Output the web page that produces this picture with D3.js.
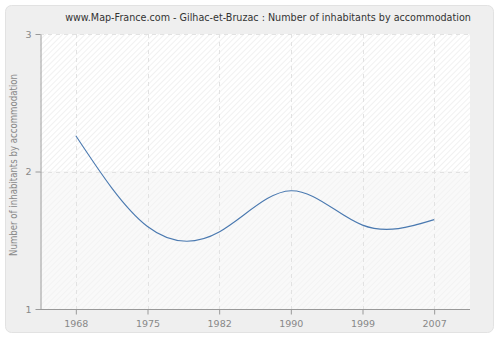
<!DOCTYPE html>
<html>
<head>
<meta charset="utf-8">
<script src="https://cdn.jsdelivr.net/npm/d3@7"></script>
<style>
  html, body { margin: 0; padding: 0; background: #fff; }
  svg { display: block; }
  text { font-family: "DejaVu Sans", Verdana, sans-serif; }
</style>
</head>
<body>
<svg id="chart" width="500" height="340"></svg>
<script>
// Census years and average number of inhabitants per accommodation
const years = ["1968", "1975", "1982", "1990", "1999", "2007"];
const inhabitants = [2.26, 1.60, 1.56, 1.86, 1.61, 1.65];
const yTicks = [1, 2, 3];
const title = "www.Map-France.com - Gilhac-et-Bruzac : Number of inhabitants by accommodation";
const yLabel = "Number of inhabitants by accommodation";

const svg = d3.select("#chart");
const W = 500, H = 340;
const plot = { left: 40, right: 470, top: 34, bottom: 309 };

// Outer panel
svg.append("rect")
  .attr("x", 5.5).attr("y", 5.5)
  .attr("width", W - 12).attr("height", H - 13)
  .attr("rx", 6)
  .attr("fill", "#efefef")
  .attr("stroke", "#e2e2e2");

// Hatch patterns: a stronger one for the upper band, a fainter one below
const defs = svg.append("defs");
function hatch(id, bg, fg) {
  const p = defs.append("pattern")
    .attr("id", id)
    .attr("patternUnits", "userSpaceOnUse")
    .attr("width", 4).attr("height", 4)
    .attr("patternTransform", "rotate(45)");
  p.append("rect").attr("width", 4).attr("height", 4).attr("fill", bg);
  p.append("line").attr("x1", 0).attr("y1", 0).attr("x2", 0).attr("y2", 4)
    .attr("stroke", fg).attr("stroke-width", 1.4);
}
hatch("hatchTop", "#ffffff", "#ececec");
hatch("hatchLow", "#f9f9f9", "#f1f1f1");

const x = d3.scalePoint().domain(years).range([plot.left, plot.right]).padding(0.5);
const y = d3.scaleLinear().domain([1, 3]).range([plot.bottom, plot.top]);

svg.append("rect")
  .attr("x", plot.left).attr("y", plot.top)
  .attr("width", plot.right - plot.left).attr("height", y(2) - plot.top)
  .attr("fill", "url(#hatchTop)");
svg.append("rect")
  .attr("x", plot.left).attr("y", y(2))
  .attr("width", plot.right - plot.left).attr("height", plot.bottom - y(2))
  .attr("fill", "url(#hatchLow)");

// Grid lines
const grid = svg.append("g").attr("stroke", "#e2e2e2").attr("stroke-dasharray", "4,4");
grid.selectAll("line.v").data(years).join("line")
  .attr("x1", d => Math.round(x(d)) + 0.5).attr("x2", d => Math.round(x(d)) + 0.5)
  .attr("y1", plot.top).attr("y2", plot.bottom);
grid.selectAll("line.h").data(yTicks.slice(1)).join("line")
  .attr("x1", plot.left).attr("x2", plot.right)
  .attr("y1", d => Math.round(y(d)) + 0.5).attr("y2", d => Math.round(y(d)) + 0.5);

// Data line
const line = d3.line()
  .x((d, i) => x(years[i]))
  .y(d => y(d))
  .curve(d3.curveNatural);
svg.append("path")
  .datum(inhabitants)
  .attr("d", line)
  .attr("fill", "none")
  .attr("stroke", "#4a79b0")
  .attr("stroke-width", 1.1);

// Axes
const xAxis = d3.axisBottom(x).tickSize(5).tickSizeOuter(0).tickPadding(6);
const gx = svg.append("g").attr("transform", `translate(0,${plot.bottom + 0.5})`).call(xAxis);
const yAxis = d3.axisLeft(y).tickValues(yTicks).tickFormat(d3.format("d")).tickSize(5).tickSizeOuter(0).tickPadding(4);
const gy = svg.append("g").attr("transform", `translate(${plot.left + 0.5},0)`).call(yAxis);
[gx, gy].forEach(g => {
  g.select(".domain").attr("stroke", "#999");
  g.selectAll(".tick line").attr("stroke", "#999");
  g.selectAll(".tick text").attr("fill", "#888").attr("font-size", 9.5)
    .attr("font-family", "\"DejaVu Sans\", Verdana, sans-serif");
});
gx.select(".domain").attr("d", `M${plot.left},0H${plot.right}`);

// Title
svg.append("text")
  .attr("x", 268).attr("y", 21)
  .attr("text-anchor", "middle")
  .attr("font-size", 9.6)
  .attr("fill", "#333")
  .text(title);

// Y axis label
svg.append("text")
  .attr("transform", `translate(17,165) rotate(-90)`)
  .attr("text-anchor", "middle")
  .attr("font-size", 10)
  .attr("textLength", 182)
  .attr("lengthAdjust", "spacingAndGlyphs")
  .attr("fill", "#888")
  .text(yLabel);
</script>
</body>
</html>
